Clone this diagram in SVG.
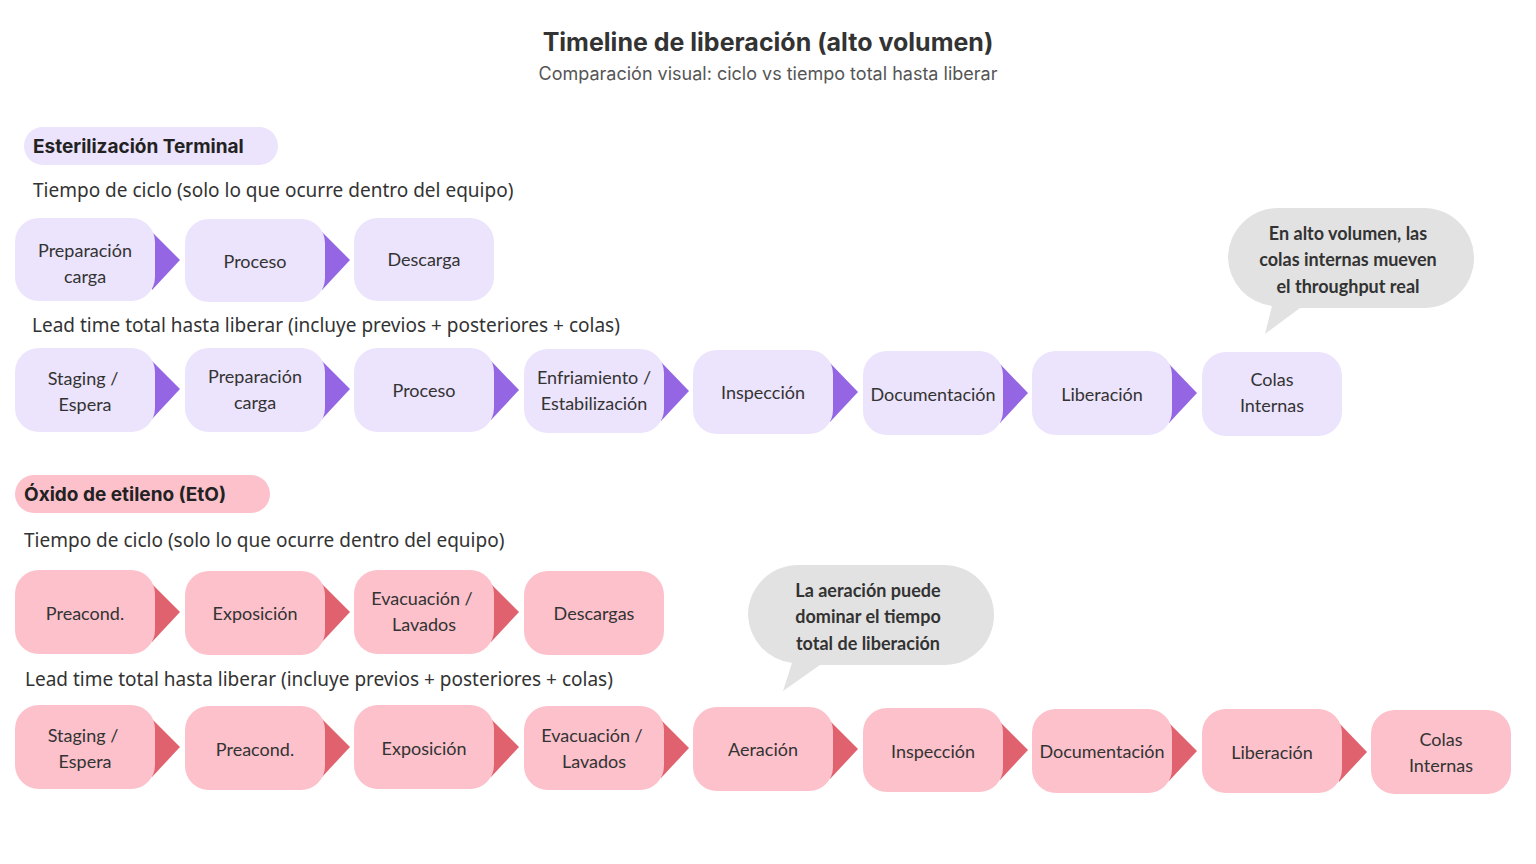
<svg xmlns="http://www.w3.org/2000/svg" width="1536" height="864" viewBox="0 0 1536 864">
<style>
.t{font-family:Lato,"Open Sans",sans-serif;font-size:18px;fill:#333;text-anchor:middle}
.h{font-family:Inter,"Noto Sans",sans-serif}
.p rect{fill:#ece3fc}.p polygon{fill:#9466e3}
.r rect{fill:#fcc1cb}.r polygon{fill:#e0626f}
.lbl{font-family:"Noto Sans",sans-serif;font-size:19px;fill:#333}
.b{font-family:Lato,sans-serif;font-size:18px;font-weight:bold;fill:#333;text-anchor:middle}
</style>
<rect width="1536" height="864" fill="#fff"/>
<text x="768" y="51" class="h" font-size="25" font-weight="bold" fill="#333" text-anchor="middle">Timeline de liberación (alto volumen)</text>
<text x="768" y="80" class="h" font-size="18" fill="#555" text-anchor="middle">Comparación visual: ciclo vs tiempo total hasta liberar</text>
<rect x="24" y="127" width="254" height="38" rx="19" fill="#ece3fc"/>
<text x="33" y="153" class="h" font-size="19" font-weight="bold" fill="#222">Esterilización Terminal</text>
<text x="33" y="197" class="lbl">Tiempo de ciclo (solo lo que ocurre dentro del equipo)</text>
<text x="32" y="332" class="lbl">Lead time total hasta liberar (incluye previos + posteriores + colas)</text>
<rect x="15" y="475" width="255" height="38" rx="19" fill="#fcc1cb"/>
<text x="24" y="501" class="h" font-size="19" font-weight="bold" fill="#222">Óxido de etileno (EtO)</text>
<text x="24" y="547" class="lbl">Tiempo de ciclo (solo lo que ocurre dentro del equipo)</text>
<text x="25" y="686" class="lbl">Lead time total hasta liberar (incluye previos + posteriores + colas)</text>

<g id="connectors">
<g class="p">
<polygon points="152,232 180,260 152,290"/><polygon points="322,232 350,260 322,290"/>
<polygon points="152,361 180,389 152,419"/><polygon points="322,361 350,389 322,419"/><polygon points="491,361 519,390 491,420"/><polygon points="661,362 689,391 661,421"/><polygon points="830,363 858,392 830,422"/><polygon points="1000,364 1028,393 1000,423"/><polygon points="1169,364 1197,393 1169,423"/>
</g>
<g class="r">
<polygon points="152,584 180,612 152,642"/><polygon points="322,584 350,612 322,642"/><polygon points="491,584 519,612 491,642"/>
<polygon points="152,719 180,747 152,777"/><polygon points="322,719 350,747 322,777"/><polygon points="491,719 519,747 491,777"/><polygon points="661,720 689,748 661,778"/><polygon points="830,721 858,749 830,779"/><polygon points="1000,722 1028,750 1000,780"/><polygon points="1169,723 1197,751 1169,781"/><polygon points="1339,723 1367,752 1339,782"/>
</g>
</g>

<g class="p">
<g id="st1"><rect x="15" y="218" width="140" height="83" rx="24"/><text class="t" x="85" y="257">Preparación</text><text class="t" x="85" y="283">carga</text></g>
<g id="st2"><rect x="185" y="219" width="140" height="83" rx="24"/><text class="t" x="255" y="268">Proceso</text></g>
<g id="st3"><rect x="354" y="218" width="140" height="83" rx="24"/><text class="t" x="424" y="266">Descarga</text></g>
<g id="sl1"><rect x="15" y="348" width="140" height="84" rx="24"/><text class="t" x="83" y="385">Staging /</text><text class="t" x="85" y="411">Espera</text></g>
<g id="sl2"><rect x="185" y="348" width="140" height="84" rx="24"/><text class="t" x="255" y="383">Preparación</text><text class="t" x="255" y="409">carga</text></g>
<g id="sl3"><rect x="354" y="348" width="140" height="84" rx="24"/><text class="t" x="424" y="397">Proceso</text></g>
<g id="sl4"><rect x="524" y="349" width="140" height="84" rx="24"/><text class="t" x="594" y="384">Enfriamiento /</text><text class="t" x="594" y="410">Estabilización</text></g>
<g id="sl5"><rect x="693" y="350" width="140" height="84" rx="24"/><text class="t" x="763" y="399">Inspección</text></g>
<g id="sl6"><rect x="863" y="351" width="140" height="84" rx="24"/><text class="t" x="933" y="401">Documentación</text></g>
<g id="sl7"><rect x="1032" y="351" width="140" height="84" rx="24"/><text class="t" x="1102" y="401">Liberación</text></g>
<g id="sl8"><rect x="1202" y="352" width="140" height="84" rx="24"/><text class="t" x="1272" y="386">Colas</text><text class="t" x="1272" y="412">Internas</text></g>
</g>
<g class="r">
<g id="et1"><rect x="15" y="570" width="140" height="84" rx="24"/><text class="t" x="85" y="620">Preacond.</text></g>
<g id="et2"><rect x="185" y="571" width="140" height="84" rx="24"/><text class="t" x="255" y="620">Exposición</text></g>
<g id="et3"><rect x="354" y="570" width="140" height="84" rx="24"/><text class="t" x="422" y="605">Evacuación /</text><text class="t" x="424" y="631">Lavados</text></g>
<g id="et4"><rect x="524" y="571" width="140" height="84" rx="24"/><text class="t" x="594" y="620">Descargas</text></g>
<g id="el1"><rect x="15" y="705" width="140" height="84" rx="24"/><text class="t" x="83" y="742">Staging /</text><text class="t" x="85" y="768">Espera</text></g>
<g id="el2"><rect x="185" y="706" width="140" height="84" rx="24"/><text class="t" x="255" y="756">Preacond.</text></g>
<g id="el3"><rect x="354" y="705" width="140" height="84" rx="24"/><text class="t" x="424" y="755">Exposición</text></g>
<g id="el4"><rect x="524" y="706" width="140" height="84" rx="24"/><text class="t" x="592" y="742">Evacuación /</text><text class="t" x="594" y="768">Lavados</text></g>
<g id="el5"><rect x="693" y="707" width="140" height="84" rx="24"/><text class="t" x="763" y="756">Aeración</text></g>
<g id="el6"><rect x="863" y="708" width="140" height="84" rx="24"/><text class="t" x="933" y="758">Inspección</text></g>
<g id="el7"><rect x="1032" y="709" width="140" height="84" rx="24"/><text class="t" x="1102" y="758">Documentación</text></g>
<g id="el8"><rect x="1202" y="709" width="140" height="84" rx="24"/><text class="t" x="1272" y="759">Liberación</text></g>
<g id="el9"><rect x="1371" y="710" width="140" height="84" rx="24"/><text class="t" x="1441" y="746">Colas</text><text class="t" x="1441" y="772">Internas</text></g>
</g>

<g id="note1">
<path d="M1278,208 H1424 A50,50 0 0 1 1474,258 A50,50 0 0 1 1424,308 H1300 L1265,334 L1272,306 A50,50 0 0 1 1228,258 A50,50 0 0 1 1278,208 Z" fill="#e2e2e2"/>
<text class="b" x="1348" y="240">En alto volumen, las</text><text class="b" x="1348" y="266">colas internas mueven</text><text class="b" x="1348" y="293">el throughput real</text>
</g>
<g id="note2">
<path d="M798,565 H944 A50,50 0 0 1 994,615 A50,50 0 0 1 944,665 H820 L783,691 L792,663 A50,50 0 0 1 748,615 A50,50 0 0 1 798,565 Z" fill="#e2e2e2"/>
<text class="b" x="868" y="597">La aeración puede</text><text class="b" x="868" y="623">dominar el tiempo</text><text class="b" x="868" y="650">total de liberación</text>
</g>
</svg>
